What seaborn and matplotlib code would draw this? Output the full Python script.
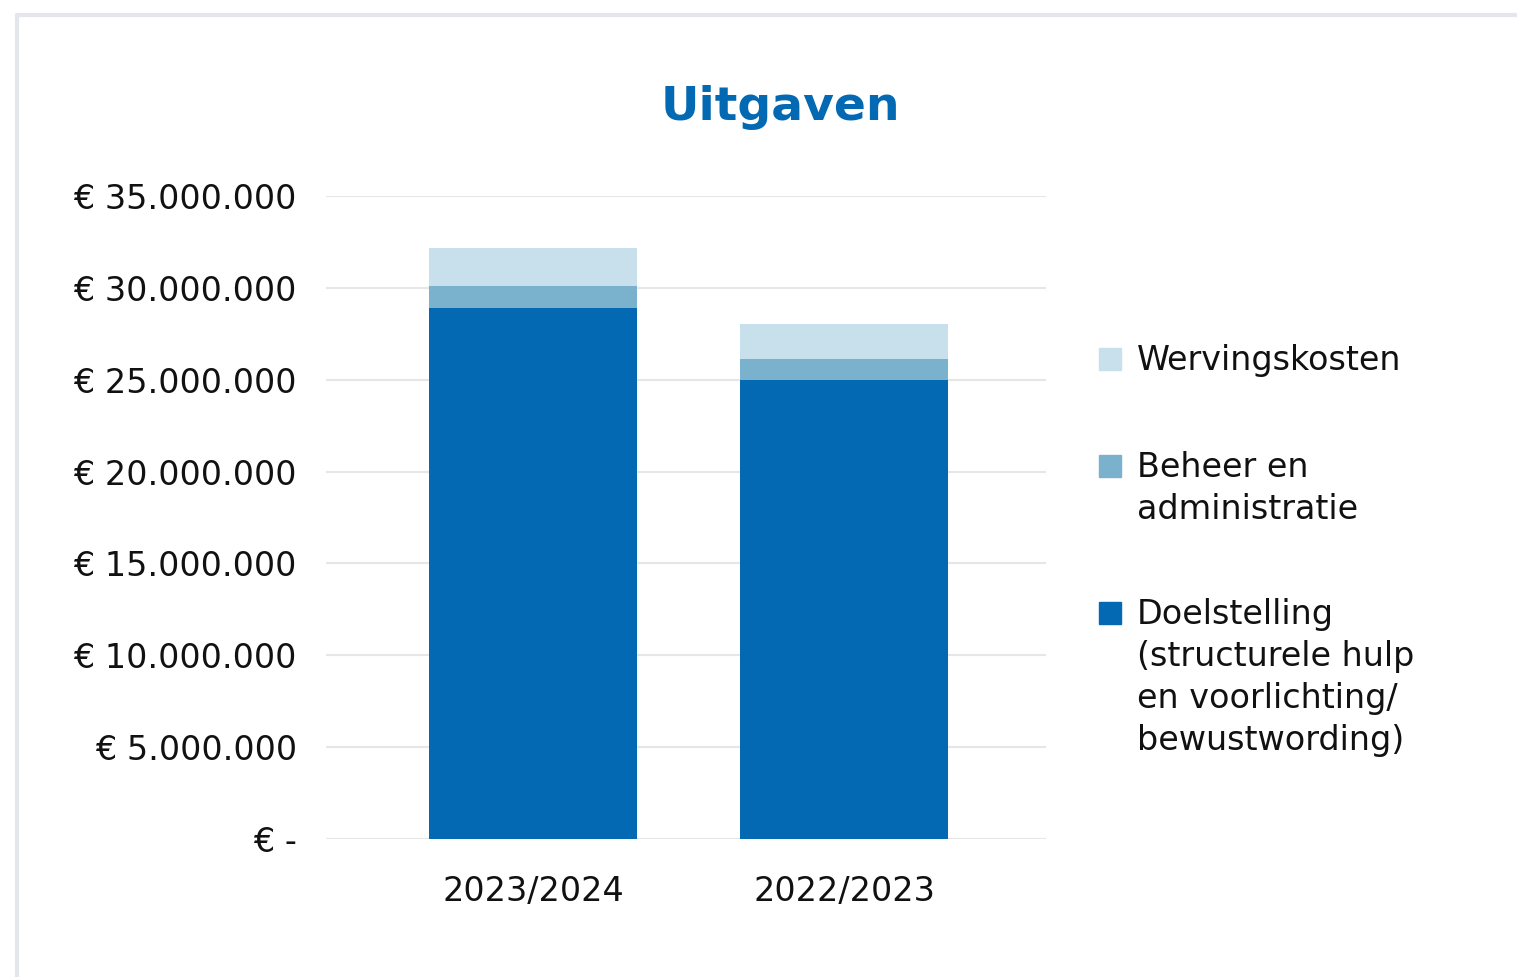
import matplotlib
matplotlib.use('Agg')
import matplotlib.pyplot as plt
import matplotlib.ticker as mticker
from matplotlib.patches import Rectangle
from matplotlib.lines import Line2D
import pandas as pd
import seaborn as sns

# data (euro)
years = ['2023/2024', '2022/2023']
doelstelling = [28_930_000, 25_000_000]
beheer = [1_190_000, 1_140_000]
werving = [2_060_000, 1_910_000]

series_labels = ['Wervingskosten', 'Beheer en\nadministratie',
                 'Doelstelling\n(structurele hulp\nen voorlichting/\nbewustwording)']
colors = ['#C7E0EB', '#7AB2CD', '#0369B3']

sns.set_theme(style='white')
plt.rcParams['font.family'] = ['DejaVu Sans']

df = pd.DataFrame({'jaar': years, 'doel': doelstelling, 'beheer': beheer, 'werving': werving})
df['lvl1'] = df['doel']
df['lvl2'] = df['doel'] + df['beheer']
df['lvl3'] = df['lvl2'] + df['werving']

W, H = 1517, 977
fig = plt.figure(figsize=(W / 100, H / 100), dpi=100)
fig.patch.set_facecolor('white')
ax = fig.add_axes([326 / W, 1 - 839 / H, 720 / W, (839 - 196) / H])

# stacked bars: draw cumulative heights, tallest first
for col, c in zip(['lvl3', 'lvl2', 'lvl1'], colors):
    sns.barplot(data=df, x='jaar', y=col, color=c, saturation=1, width=0.669,
                linewidth=0, ax=ax, zorder=3)

ax.set_xlim(-0.666, 1.649)
ax.set_ylim(0, 35_000_000)
ax.yaxis.set_major_locator(mticker.MultipleLocator(5_000_000))


def euro(v, pos):
    if v == 0:
        return '€ -'
    return '€ ' + f'{v:,.0f}'.replace(',', '.')


ax.yaxis.set_major_formatter(mticker.FuncFormatter(euro))
ax.grid(axis='y', color='#E6E6E6', linewidth=1.5, zorder=0)
ax.set_axisbelow(True)
for s in ax.spines.values():
    s.set_visible(False)
ax.set_xlabel('')
ax.set_ylabel('')
ax.tick_params(axis='y', labelsize=24, pad=21, length=0, colors='#111111')
ax.tick_params(axis='x', labelsize=24, pad=26, length=0, colors='#111111')

fig.text(780 / W, 1 - 107 / H, 'Uitgaven', ha='center', va='center',
         fontsize=34, fontweight='bold', color='#0369B3')

# legend
leg_y = [359, 466, 613]
for lab, c, y in zip(series_labels, colors, leg_y):
    fig.add_artist(Rectangle((1099 / W, 1 - (y + 11) / H), 22 / W, 22 / H,
                             transform=fig.transFigure, color=c))
    fig.text(1137 / W, 1 - (y - 15) / H, lab, ha='left', va='top',
             fontsize=24, color='#111111', linespacing=1.34)

# card border
fig.add_artist(Line2D([17 / W, 1], [1 - 15 / H, 1 - 15 / H], transform=fig.transFigure,
                      color='#E3E6EA', linewidth=3))
fig.add_artist(Line2D([17 / W, 17 / W], [1 - 15 / H, 0], transform=fig.transFigure,
                      color='#E3E6EA', linewidth=3))

fig.savefig('out.png', dpi=100)
